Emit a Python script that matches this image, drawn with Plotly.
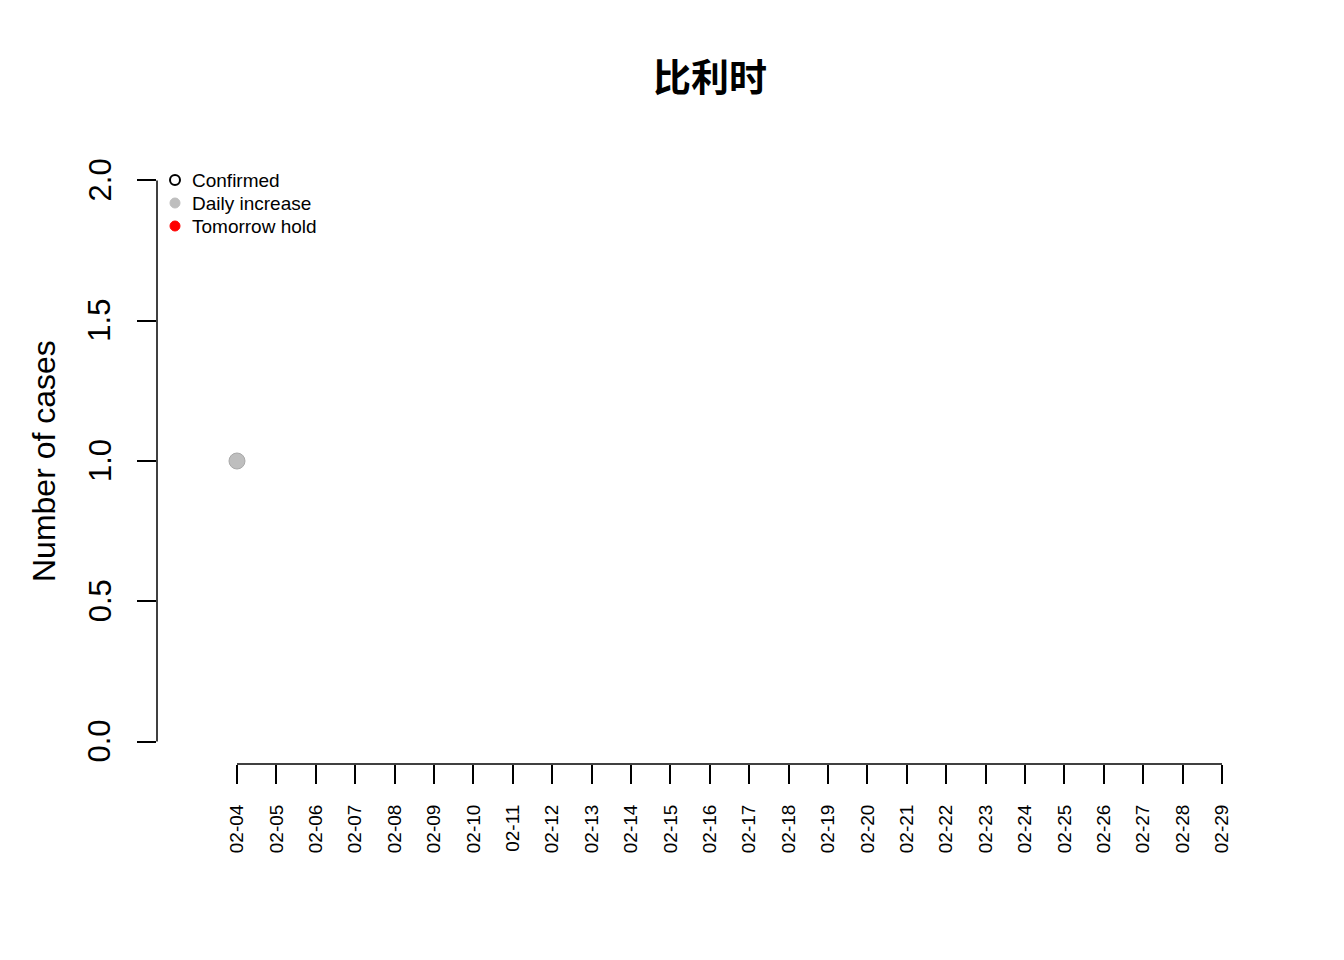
import plotly.graph_objects as go

# ---- data ----
tick_labels = ["02-04", "02-05", "02-06", "02-07", "02-08", "02-09", "02-10",
               "02-11", "02-12", "02-13", "02-14", "02-15", "02-16", "02-17",
               "02-18", "02-19", "02-20", "02-21", "02-22", "02-23", "02-24",
               "02-25", "02-26", "02-27", "02-28", "02-29"]
point_dates = ["02-04"]
confirmed = [1]
daily_increase = [1]
tomorrow_hold_dates = []
tomorrow_hold = []
y_ticks = [0.0, 0.5, 1.0, 1.5, 2.0]
y_tick_text = ["0.0", "0.5", "1.0", "1.5", "2.0"]
legend_names = ["Confirmed", "Daily increase", "Tomorrow hold"]

title_text = "比利时"
ytitle = "Number of cases"

FONT = "Liberation Sans, Arial, sans-serif"

idx = {lab: i for i, lab in enumerate(tick_labels)}
tick_pos = list(range(len(tick_labels)))

fig = go.Figure()
fig.add_trace(go.Scatter(
    x=[idx[d] for d in point_dates], y=confirmed, mode="markers",
    marker=dict(size=11, color="rgba(0,0,0,0)", line=dict(color="black", width=2)),
    showlegend=False, hoverinfo="skip"))
fig.add_trace(go.Scatter(
    x=[idx[d] for d in point_dates], y=daily_increase, mode="markers",
    marker=dict(size=16, color="#bebebe", line=dict(color="#a9a9a9", width=1)),
    showlegend=False))
fig.add_trace(go.Scatter(
    x=[idx[d] for d in tomorrow_hold_dates], y=tomorrow_hold, mode="markers",
    marker=dict(size=12, color="red"), showlegend=False))

# axis lines spanning first..last tick (R style)
fig.add_shape(type="line", xref="x", yref="paper",
              x0=tick_pos[0], x1=tick_pos[-1], y0=0, y1=0,
              line=dict(color="black", width=1.5))
fig.add_shape(type="line", xref="paper", yref="y",
              x0=0, x1=0, y0=y_ticks[0], y1=y_ticks[-1],
              line=dict(color="black", width=1.5))

# y tick labels as rotated annotations (R style placement)
for v, t in zip(y_ticks, y_tick_text):
    fig.add_annotation(xref="paper", yref="y", x=0, y=v, xshift=-57,
                       xanchor="center", yanchor="middle", textangle=-90,
                       text=t, showarrow=False,
                       font=dict(family=FONT, size=31, color="black"))

# manual legend
leg_styles = [
    dict(fillcolor="white", line=dict(color="black", width=2)),
    dict(fillcolor="#bebebe", line=dict(color="#bebebe", width=1)),
    dict(fillcolor="red", line=dict(color="red", width=1)),
]
for i, (name, st) in enumerate(zip(legend_names, leg_styles)):
    yoff = -22 - 23 * i
    fig.add_shape(type="circle", xref="paper", yref="paper",
                  xsizemode="pixel", ysizemode="pixel",
                  xanchor=0, yanchor=1,
                  x0=18 - 5, x1=18 + 5, y0=yoff - 5, y1=yoff + 5, **st)
    fig.add_annotation(xref="paper", yref="paper", x=0, y=1,
                       xshift=33, yshift=yoff, xanchor="left", yanchor="middle",
                       text=name, showarrow=False,
                       font=dict(family=FONT, size=19, color="black"))

fig.add_annotation(xref="paper", yref="y", x=0, y=1.0, xshift=-113,
                   xanchor="center", yanchor="middle", textangle=-90,
                   text=ytitle, showarrow=False,
                   font=dict(family=FONT, size=32, color="black"))

fig.update_layout(
    width=1344, height=960,
    margin=dict(l=157, r=81, t=158, b=196),
    paper_bgcolor="white", plot_bgcolor="white",
    title=dict(text="<b>" + title_text + "</b>", x=0.5, xref="paper",
               y=1 - 78 / 960, yref="container", xanchor="center", yanchor="middle",
               font=dict(family="Noto Sans CJK SC", size=38, color="black")),
    showlegend=False,
    font=dict(family=FONT, color="black"),
)
fig.update_xaxes(range=[-2.03, 26.04], tickvals=tick_pos, ticktext=tick_labels,
                 tickangle=-90, ticks="outside", ticklen=19, tickwidth=1.5,
                 tickcolor="black", showgrid=False, zeroline=False, showline=False,
                 tickfont=dict(family=FONT, size=19), ticklabelstandoff=13)
fig.update_yaxes(range=[-0.08, 2.08], tickvals=y_ticks, showticklabels=False,
                 ticks="outside", ticklen=19, tickwidth=1.5,
                 tickcolor="black", showgrid=False, zeroline=False, showline=False)

fig.write_html("out.html")
